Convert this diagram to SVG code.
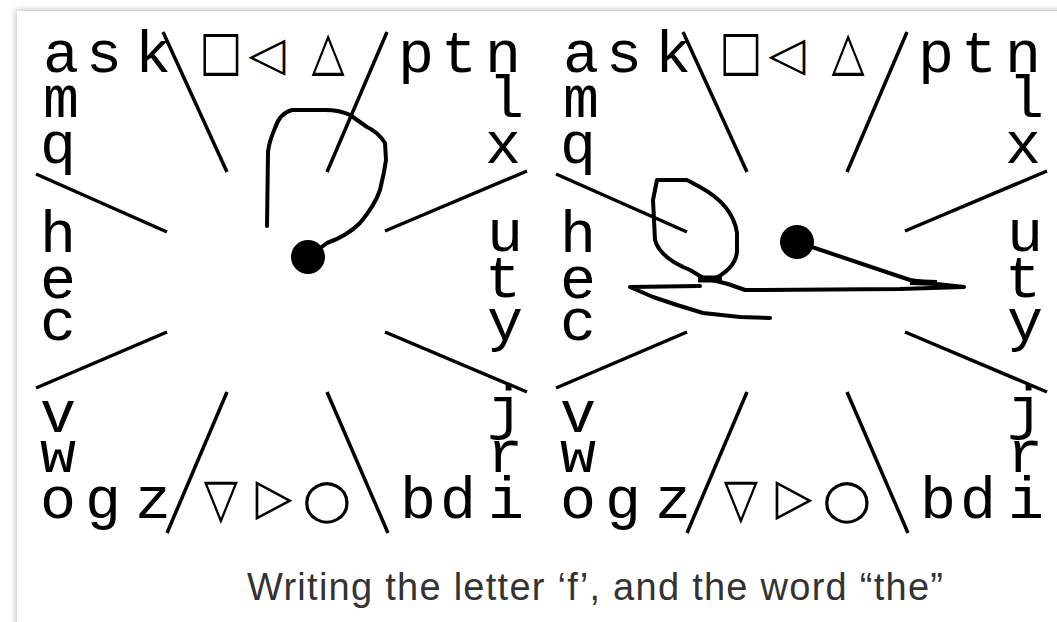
<svg xmlns="http://www.w3.org/2000/svg" width="1057" height="622" viewBox="0 0 1057 622">
<defs>
<filter id="sh" x="-5%" y="-5%" width="110%" height="110%"><feGaussianBlur stdDeviation="3"/></filter>
<style>
.g{font-family:"Liberation Mono","DejaVu Sans Mono",monospace;font-size:60px;text-anchor:middle;fill:#000}
.s{font-family:"DejaVu Sans",sans-serif;font-size:46px;text-anchor:middle;fill:#000}
.ln{stroke:#000;stroke-width:3.5;fill:none}
.pen{stroke:#000;stroke-width:4;fill:none;stroke-linejoin:round;stroke-linecap:round}
.cap{font-family:"Liberation Sans",Arial,sans-serif;font-size:38px;fill:#333}
</style>
<g id="letters">
<text class="g" x="61" y="72">a</text><text class="g" x="104" y="72">s</text><text class="g" x="153" y="72">k</text>
<text class="s" transform="translate(221,69) scale(1,1.18)">□</text>
<text class="s" transform="translate(267,70) scale(1.05,1.03)">◁</text>
<text class="s" transform="translate(328,69) scale(0.94,1.18)">△</text>
<text class="g" x="416" y="72">p</text><text class="g" x="459" y="72">t</text><text class="g" x="503" y="72">n</text>
<text class="g" x="61" y="117">m</text><text class="g" x="58" y="163">q</text>
<text class="g" x="58" y="252">h</text><text class="g" x="58" y="298">e</text><text class="g" x="58" y="340">c</text>
<text class="g" x="58" y="432">v</text><text class="g" x="58" y="472">w</text>
<text class="g" x="506" y="117">l</text><text class="g" x="503" y="163">x</text>
<text class="g" x="505" y="251">u</text><text class="g" x="503" y="297">t</text><text class="g" x="505" y="340">y</text>
<text class="g" x="505" y="428">j</text><text class="g" x="505" y="472">r</text>
<text class="g" x="58" y="518">o</text><text class="g" x="103" y="518">g</text><text class="g" x="153" y="518">z</text>
<text class="s" transform="translate(221,517) scale(0.97,1.2)">▽</text>
<text class="s" transform="translate(274,514) scale(1.05,1.12)">▷</text>
<text class="s" transform="translate(327,517) scale(1.24,1.18)">○</text>
<text class="g" x="418" y="518">b</text><text class="g" x="458" y="518">d</text><text class="g" x="506" y="518">i</text>
</g>
<g id="spokes" class="ln">
<line x1="163" y1="32" x2="227" y2="172"/><line x1="387" y1="32" x2="327" y2="172"/>
<line x1="36" y1="174" x2="167" y2="232"/><line x1="167" y1="332" x2="36" y2="388"/>
<line x1="385" y1="231" x2="527" y2="171"/><line x1="385" y1="332" x2="527" y2="392"/>
<line x1="227" y1="392" x2="167" y2="533"/><line x1="327" y1="392" x2="388" y2="533"/>
</g>
</defs>
<rect width="1057" height="622" fill="#fff"/>
<rect x="16" y="10" width="1100" height="700" fill="#bbb" filter="url(#sh)"/>
<rect x="17" y="11" width="1100" height="700" fill="#fff"/>

<g id="panel-f">
<use href="#letters"/>
<use href="#spokes"/>
<g id="stroke-f">
<path class="pen" d="M308,257 L327,243 Q347,236 360,223 Q375,205 380,190 L384,172 L386,160 L385,143 Q378,132 367,127 L350,115 Q340,110 325,110 L292,110 Q280,113 275,128 Q269,142 268,152 L267,226"/>
<circle cx="308" cy="257" r="17" fill="#000"/>
</g>
</g>

<g id="panel-the">
<use href="#letters" x="520"/>
<use href="#spokes" x="520"/>
<g id="stroke-the">
<path class="pen" d="M797,242 L910,280 L937,284 L964,287 L900,289 L745,290 L728,284 L712,280"/>
<path class="pen" d="M712,280 Q737,268 737,250 L737,233 Q733,205 700,187 L687,180 L657,180 L653,200 L655,240 Q660,258 690,270 L705,279"/>
<path class="pen" d="M700,286 L630,287 L653,297 L677,305 L703,313 L740,317 L770,318"/>
<line x1="698" y1="279" x2="722" y2="279" stroke="#000" stroke-width="7"/>
<line x1="910" y1="282" x2="937" y2="283" stroke="#000" stroke-width="6"/>
<circle cx="797" cy="242" r="17" fill="#000"/>
</g>
</g>

<text id="caption" class="cap" x="247" y="600" textLength="696" lengthAdjust="spacing">Writing the letter ‘f’, and the word “the”</text>
</svg>
